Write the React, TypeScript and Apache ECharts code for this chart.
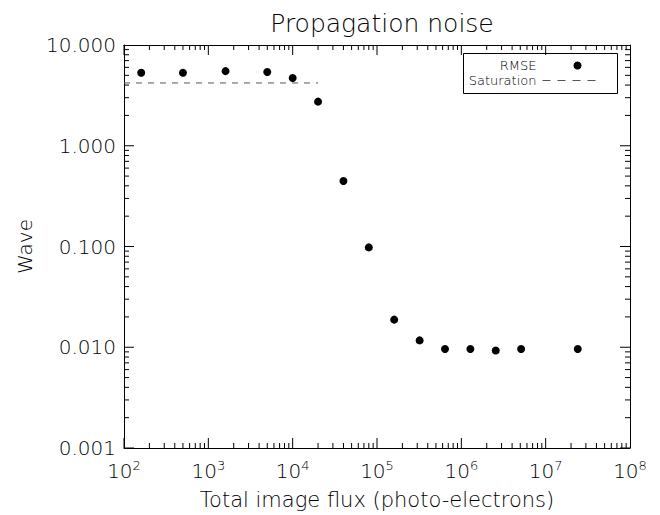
import React, { useEffect, useRef } from "react";
import * as echarts from "echarts";

const flux = [160, 500, 1600, 5000, 10000, 20000, 40000, 80000, 160000, 320000, 640000, 1280000, 2560000, 5120000, 24000000];
const rmse = [5.3, 5.3, 5.5, 5.4, 4.7, 2.74, 0.447, 0.098, 0.0188, 0.0117, 0.0096, 0.0096, 0.0093, 0.0096, 0.0096];
const saturationX = [100, 20000];
const saturationY = [4.2, 4.2];
const xRange = [100, 1e8];
const yRange = [0.001, 10];
const xDecades = [100, 1000, 10000, 100000, 1000000, 10000000];
const yDecades = [0.001, 0.01, 0.1, 1];
const minorSteps = [2, 3, 4, 5, 6, 7, 8, 9];

const FONT = "'DejaVu Sans', sans-serif";
const W = 200;

export default function App() {
  const ref = useRef<HTMLDivElement>(null);
  useEffect(() => {
    if (!ref.current) return;
    const chart = echarts.init(ref.current, null, { renderer: "svg" });
    const axisLine = { show: true, onZero: false, lineStyle: { color: "#000", width: 1 } };
    const noTick = { show: false };

    // [x, y, orientation (0 = x-axis tick, 1 = y-axis tick), length]
    const tickData: number[][] = [];
    xDecades.forEach((d) => {
      tickData.push([d, 1, 0, 10]);
      minorSteps.forEach((m) => tickData.push([d * m, 1, 0, 5]));
    });
    yDecades.forEach((d) => {
      tickData.push([1000, d, 1, 10]);
      minorSteps.forEach((m) => tickData.push([1000, d * m, 1, 5]));
    });

    chart.setOption({
      animation: false,
      backgroundColor: "#fff",
      textStyle: { fontFamily: FONT, fontWeight: W },
      title: {
        text: "Propagation noise",
        left: 377,
        top: 6,
        textAlign: "center",
        textStyle: { fontFamily: FONT, fontSize: 25, fontWeight: W, color: "#000" },
      },
      grid: { left: 124, right: 30, top: 45, bottom: 62, containLabel: false },
      xAxis: [
        {
          type: "log",
          logBase: 10,
          min: xRange[0],
          max: xRange[1],
          position: "bottom",
          axisLine,
          axisTick: noTick,
          splitLine: { show: false },
          name: "Total image flux (photo-electrons)",
          nameLocation: "middle",
          nameGap: 41,
          nameTextStyle: { fontFamily: FONT, fontSize: 21, fontWeight: W, color: "#000" },
          axisLabel: {
            margin: 11,
            formatter: (v: number) => `{b|10}{s|${Math.round(Math.log10(v))}}`,
            rich: {
              b: { fontFamily: FONT, fontSize: 20, fontWeight: W, color: "#000" },
              s: { fontFamily: FONT, fontSize: 13, fontWeight: W, color: "#000", padding: [0, 0, 10, 0] },
            },
          },
        },
        {
          type: "log",
          logBase: 10,
          min: xRange[0],
          max: xRange[1],
          position: "top",
          axisLine,
          axisTick: noTick,
          splitLine: { show: false },
          axisLabel: { show: false },
        },
      ],
      yAxis: [
        {
          type: "log",
          logBase: 10,
          min: yRange[0],
          max: yRange[1],
          position: "left",
          axisLine,
          axisTick: noTick,
          splitLine: { show: false },
          name: "Wave",
          nameLocation: "middle",
          nameGap: 86,
          nameRotate: 90,
          nameTextStyle: { fontFamily: FONT, fontSize: 20, fontWeight: W, color: "#000" },
          axisLabel: {
            margin: 8,
            fontFamily: FONT,
            fontSize: 20,
            fontWeight: W,
            color: "#000",
            formatter: (v: number) => v.toFixed(3),
          },
        },
        {
          type: "log",
          logBase: 10,
          min: yRange[0],
          max: yRange[1],
          position: "right",
          axisLine,
          axisTick: noTick,
          splitLine: { show: false },
          axisLabel: { show: false },
        },
      ],
      series: [
        {
          name: "RMSE",
          type: "scatter",
          symbol: "circle",
          symbolSize: 8,
          itemStyle: { color: "#000", opacity: 1 },
          data: flux.map((x, i) => [x, rmse[i]]),
          z: 5,
        },
        {
          name: "Saturation",
          type: "line",
          symbol: "none",
          lineStyle: { color: "#555", width: 1, type: [6, 6] },
          data: saturationX.map((x, i) => [x, saturationY[i]]),
        },
        {
          name: "ticks",
          type: "custom",
          silent: true,
          clip: false,
          dimensions: ["x", "y", "kind", "len"],
          encode: { x: 0, y: 1 },
          data: tickData,
          z: 10,
          renderItem: (params: any, api: any) => {
            const kind = api.value(2);
            const len = api.value(3);
            const style = { stroke: "#000", lineWidth: 1 };
            if (kind === 0) {
              const v = api.value(0);
              const b = api.coord([v, yRange[0]]);
              const t = api.coord([v, yRange[1]]);
              return {
                type: "group",
                children: [
                  { type: "line", shape: { x1: b[0], y1: b[1], x2: b[0], y2: b[1] - len }, style },
                  { type: "line", shape: { x1: t[0], y1: t[1], x2: t[0], y2: t[1] + len }, style },
                ],
              };
            }
            const v = api.value(1);
            const l = api.coord([xRange[0], v]);
            const r = api.coord([xRange[1], v]);
            return {
              type: "group",
              children: [
                { type: "line", shape: { x1: l[0], y1: l[1], x2: l[0] + len, y2: l[1] }, style },
                { type: "line", shape: { x1: r[0], y1: r[1], x2: r[0] - len, y2: r[1] }, style },
              ],
            };
          },
        },
      ],
      graphic: [
        {
          type: "group",
          left: 463,
          top: 53,
          z: 20,
          children: [
            { type: "rect", shape: { x: 0, y: 0, width: 154, height: 40 }, style: { fill: "#fff", stroke: "#000", lineWidth: 1 } },
            { type: "text", x: 73, y: 12, style: { text: "RMSE", fontFamily: FONT, fontSize: 13, fontWeight: W, fill: "#000", align: "right", verticalAlign: "middle" } },
            { type: "circle", shape: { cx: 114, cy: 12, r: 4 }, style: { fill: "#000" } },
            { type: "text", x: 73, y: 27, style: { text: "Saturation", fontFamily: FONT, fontSize: 13, fontWeight: W, fill: "#000", align: "right", verticalAlign: "middle" } },
            { type: "line", shape: { x1: 79, y1: 27, x2: 135, y2: 27 }, style: { stroke: "#555", lineWidth: 1, lineDash: [8, 7] } },
          ],
        },
      ],
    });
    return () => chart.dispose();
  }, []);
  return <div ref={ref} style={{ position: "fixed", left: 0, top: 0, width: 660, height: 515 }} />;
}
